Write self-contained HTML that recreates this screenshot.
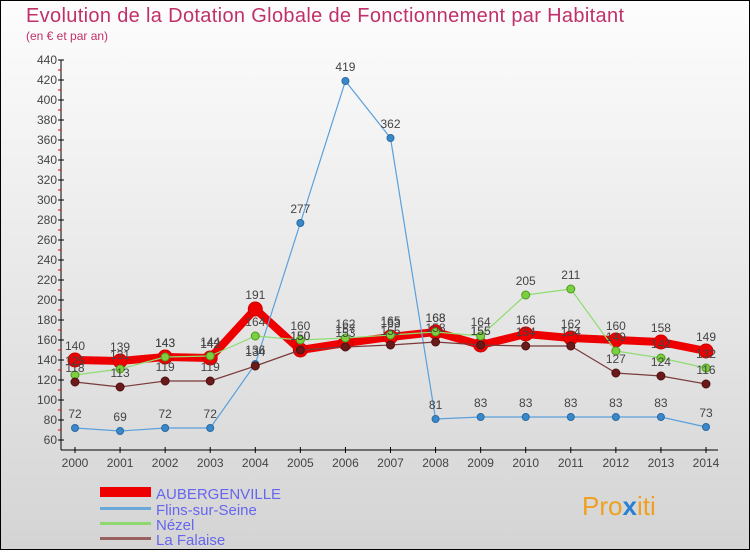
<!DOCTYPE html>
<html><head><meta charset="utf-8"><style>
body{margin:0;width:750px;height:550px;overflow:hidden;font-family:"Liberation Sans",sans-serif}
svg text{font-family:"Liberation Sans",sans-serif}
</style></head><body>
<svg id="c" width="750" height="550" xmlns="http://www.w3.org/2000/svg">
<defs><linearGradient id="bg" x1="0" y1="0" x2="0" y2="1"><stop offset="0" stop-color="#fdfdfd"/><stop offset="1" stop-color="#d4d4d4"/></linearGradient></defs>
<rect x="0.5" y="0.5" width="749" height="549" fill="url(#bg)" stroke="#000"/>
<text x="26" y="22" font-size="20" fill="#c0306a" textLength="598">Evolution de la Dotation Globale de Fonctionnement par Habitant</text>
<text x="26" y="40" font-size="12" fill="#c0306a">(en € et par an)</text>
<g id="axes"></g><g id="series"></g><g id="labels"></g>
<g>
<rect x="100" y="487" width="51" height="10" fill="#e00"/>
<text x="156" y="499" font-size="15" fill="#6666ee">AUBERGENVILLE</text>
<rect x="100" y="507" width="51" height="3" fill="#6aa8d8"/>
<text x="156" y="515" font-size="15" fill="#6666ee">Flins-sur-Seine</text>
<rect x="100" y="522" width="51" height="3" fill="#8fd870"/>
<text x="156" y="530" font-size="15" fill="#6666ee">Nézel</text>
<rect x="100" y="537" width="51" height="3" fill="#996060"/>
<text x="156" y="545" font-size="15" fill="#6666ee">La Falaise</text>
</g>
<text x="582" y="515" font-size="26" fill="#f0a020">Pro<tspan fill="#2a80d0" font-weight="bold">x</tspan>iti</text>
</svg>
<script>
const years=[2000,2001,2002,2003,2004,2005,2006,2007,2008,2009,2010,2011,2012,2013,2014];
const aubergenville=[140,139,143,142,191,150,157,163,168,155,166,162,160,158,149];
const flins=[72,69,72,72,136,277,419,362,81,83,83,83,83,83,73];
const nezel=[125,131,143,144,164,160,162,165,168,164,205,211,149,142,132];
const falaise=[118,113,119,119,134,150,153,155,158,155,154,154,127,124,116];
const yTicks=[60,80,100,120,140,160,180,200,220,240,260,280,300,320,340,360,380,400,420,440];
const NS="http://www.w3.org/2000/svg";
const X=i=>75+i*(706-75)/(years.length-1);
const Y=v=>500-v;
function mk(t,a,p){const e=document.createElementNS(NS,t);for(const k in a)e.setAttribute(k,a[k]);p.appendChild(e);return e;}
const ax=document.getElementById('axes'),sg=document.getElementById('series'),lg=document.getElementById('labels');
let l=mk('line',{x1:61,y1:60,x2:61,y2:450,stroke:'#000'},ax);


l=mk('line',{x1:61,y1:450,x2:718,y2:450,stroke:'#000'},ax);


yTicks.forEach(v=>{
 mk('line',{x1:58,y1:Y(v),x2:64,y2:Y(v),stroke:'#000'},ax);
 if(v<440)mk('line',{x1:58,y1:Y(v+10),x2:61,y2:Y(v+10),stroke:'#e00'},ax);
 const t=mk('text',{x:57,y:Y(v)+4,'font-size':12,'text-anchor':'end',fill:'#444'},ax);t.textContent=v;
 
 
});
years.forEach((y,i)=>{
 mk('line',{x1:X(i),y1:447,x2:X(i),y2:453,stroke:'#000'},ax);
 const t=mk('text',{x:X(i),y:467,'font-size':12,'text-anchor':'middle',fill:'#444'},ax);t.textContent=y;
 
 
});
function series(vals,name,color,w,r,dot,dstroke){
 const p=mk('polyline',{points:vals.map((v,i)=>X(i)+','+Y(v)).join(' '),fill:'none',stroke:color,'stroke-width':w,'stroke-linejoin':'round'},sg);
 
 
 vals.forEach((v,i)=>{
  const c=mk('circle',{cx:X(i),cy:Y(v),r:r,fill:dot,stroke:dstroke,'stroke-width':1},sg);
  
  
  const t=mk('text',{x:X(i),y:Y(v)-10,'font-size':12,'text-anchor':'middle',fill:'#444'},lg);t.textContent=v;
  
  
 });
}
series(aubergenville,'aubergenville','#ee0000',8,7,'#ee0000','#cc0000');
series(flins,'flins','#5aa0dc',1.2,3.5,'#3a88cc','#2a6aa0');
series(nezel,'nezel','#90dc70',1.2,4,'#7cd040','#4a9a20');
series(falaise,'la-falaise','#7a3a3a',1.2,4,'#6a1a1a','#501010');
</script>
</body></html>
